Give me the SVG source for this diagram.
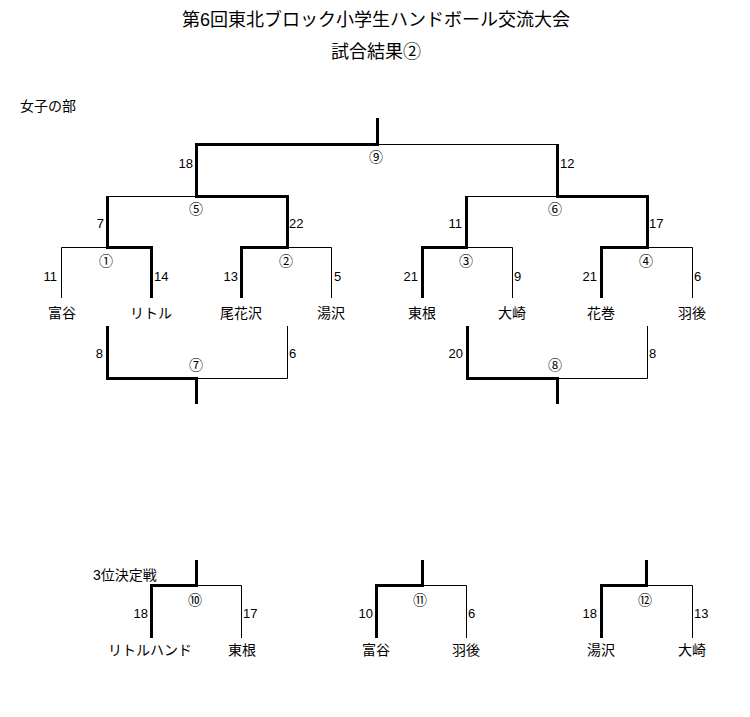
<svg xmlns="http://www.w3.org/2000/svg" width="750" height="717" viewBox="0 0 750 717">
<style>
text{font-family:"Liberation Sans","Noto Sans CJK JP",sans-serif;fill:#000}
.title{font-size:18px;text-anchor:middle}
.lbl{font-size:14px}
.team{font-size:14px;text-anchor:middle}
.sc{font-size:13px}
.l{text-anchor:end}
.r{text-anchor:start}
.m{font-family:"Noto Sans CJK JP",sans-serif;font-size:14px;text-anchor:middle;fill:#000}
.thin{fill:none;stroke:#000;stroke-width:1}
.thick{fill:none;stroke:#000;stroke-width:3;stroke-linecap:butt;stroke-linejoin:miter}
</style>
<rect width="750" height="717" fill="#fff"/>
<g id="titles">
<text class="title" x="376" y="26">第6回東北ブロック小学生ハンドボール交流大会</text>
<text class="title" x="376" y="58">試合結果②</text>
<text class="lbl" x="20" y="111">女子の部</text>
<text class="lbl" x="93" y="580">3位決定戦</text>
</g>
<g id="connectors">
<path class="thin" d="M377.5 144.5H557.5"/>
<path class="thin" d="M107.5 196.5H196.5"/>
<path class="thin" d="M466.5 196.5H557.5"/>
<path class="thin" d="M61.5 298V247.5H107.5"/>
<path class="thin" d="M287.5 247.5H331.5V298"/>
<path class="thin" d="M466.5 247.5H512.5V298"/>
<path class="thin" d="M647.5 247.5H692.5V298"/>
<path class="thin" d="M196.5 378.5H287.5V326"/>
<path class="thin" d="M557.5 378.5H647.5V326"/>
<path class="thin" d="M196.5 585.5H241.5V638"/>
<path class="thin" d="M422.5 585.5H466.5V638"/>
<path class="thin" d="M646.5 585.5H692.5V638"/>
<path class="thick" d="M377.5 118V144.5H196.5V196.5H287.5V247.5H241.5V298"/>
<path class="thick" d="M151.5 298V247.5H107.5V196"/>
<path class="thick" d="M422.5 298V247.5H466.5V196"/>
<path class="thick" d="M601.5 298V247.5H647.5V196.5H557.5V144"/>
<path class="thick" d="M107.5 326V378.5H196.5V404"/>
<path class="thick" d="M467.5 326V378.5H557.5V404"/>
<path class="thick" d="M196.5 560V585.5H151.5V638"/>
<path class="thick" d="M422.5 560V585.5H376.5V638"/>
<path class="thick" d="M646.5 560V585.5H601.5V638"/>
</g>
<g id="teams">
<g id="t-tomiya"><text class="team" x="62" y="318">富谷</text></g>
<g id="t-little"><text class="team" x="151" y="318">リトル</text></g>
<g id="t-obanazawa"><text class="team" x="241" y="318">尾花沢</text></g>
<g id="t-yuzawa"><text class="team" x="331" y="318">湯沢</text></g>
<g id="t-higashine"><text class="team" x="422" y="318">東根</text></g>
<g id="t-osaki"><text class="team" x="512" y="318">大崎</text></g>
<g id="t-hanamaki"><text class="team" x="601" y="318">花巻</text></g>
<g id="t-ugo"><text class="team" x="692" y="318">羽後</text></g>
<g id="b-little"><text class="team" x="150" y="655">リトルハンド</text></g>
<g id="b-higashine"><text class="team" x="242" y="655">東根</text></g>
<g id="b-tomiya"><text class="team" x="376" y="655">富谷</text></g>
<g id="b-ugo"><text class="team" x="466" y="655">羽後</text></g>
<g id="b-yuzawa"><text class="team" x="601" y="655">湯沢</text></g>
<g id="b-osaki"><text class="team" x="692" y="655">大崎</text></g>
</g>
<g id="matches">
<g id="m9"><text class="m" x="376" y="162">⑨</text><text class="sc l" x="193" y="168">18</text><text class="sc r" x="560" y="168">12</text></g>
<g id="m5"><text class="m" x="196" y="214">⑤</text><text class="sc l" x="104" y="228">7</text><text class="sc r" x="289" y="228">22</text></g>
<g id="m6"><text class="m" x="555" y="214">⑥</text><text class="sc l" x="462" y="228">11</text><text class="sc r" x="649" y="228">17</text></g>
<g id="m1"><text class="m" x="106" y="266">①</text><text class="sc l" x="57" y="281">11</text><text class="sc r" x="154" y="281">14</text></g>
<g id="m2"><text class="m" x="286" y="266">②</text><text class="sc l" x="238" y="281">13</text><text class="sc r" x="334" y="281">5</text></g>
<g id="m3"><text class="m" x="466" y="266">③</text><text class="sc l" x="418" y="281">21</text><text class="sc r" x="514" y="281">9</text></g>
<g id="m4"><text class="m" x="646" y="266">④</text><text class="sc l" x="597" y="281">21</text><text class="sc r" x="694" y="281">6</text></g>
<g id="m7"><text class="m" x="196" y="370">⑦</text><text class="sc l" x="103" y="358">8</text><text class="sc r" x="289" y="358">6</text></g>
<g id="m8"><text class="m" x="555" y="370">⑧</text><text class="sc l" x="463" y="358">20</text><text class="sc r" x="649" y="358">8</text></g>
<g id="m10"><text class="m" x="195" y="605">⑩</text><text class="sc l" x="148" y="618">18</text><text class="sc r" x="243" y="618">17</text></g>
<g id="m11"><text class="m" x="420" y="605">⑪</text><text class="sc l" x="373" y="618">10</text><text class="sc r" x="468" y="618">6</text></g>
<g id="m12"><text class="m" x="645" y="605">⑫</text><text class="sc l" x="597" y="618">18</text><text class="sc r" x="694" y="618">13</text></g>
</g>
</svg>
